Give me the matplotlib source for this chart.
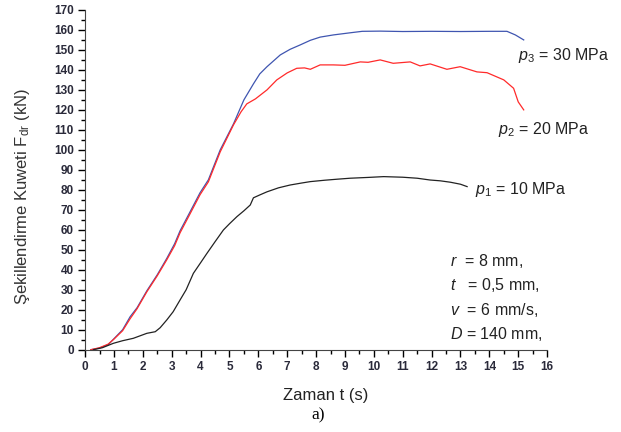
import matplotlib
matplotlib.use("Agg")
import matplotlib.pyplot as plt
from matplotlib.ticker import MultipleLocator

plt.rcParams.update({
    "font.family": ["Liberation Sans", "DejaVu Sans"],
    "mathtext.fontset": "custom",
    "mathtext.rm": "Liberation Sans",
    "mathtext.it": "Liberation Sans:italic",
})

# p3 = 30 MPa (blue)
t_p3 = [0.2, 0.5, 0.8, 1.0, 1.3, 1.56, 1.8, 2.14, 2.5, 2.83, 3.1, 3.29, 3.6, 3.98,
        4.27, 4.68, 5.14, 5.5, 5.83, 6.05, 6.3, 6.76, 7.1, 7.45, 7.8, 8.14, 8.6,
        9.2, 9.6, 10.22, 11.0, 12.0, 13.0, 14.0, 14.61, 14.9, 15.19]
f_p3 = [0, 0.8, 2.5, 5.5, 10, 16.5, 21, 29.5, 37.5, 45.7, 53, 59.5, 68, 78.5,
        85, 100, 113, 125, 133, 138, 141.6, 147.5, 150.3, 152.5, 154.8, 156.4, 157.5,
        158.6, 159.3, 159.4, 159.2, 159.3, 159.2, 159.3, 159.3, 157.5, 155]

# p2 = 20 MPa (red)
t_p2 = [0.2, 0.5, 0.8, 1.0, 1.3, 1.56, 1.8, 2.14, 2.5, 2.83, 3.1, 3.29, 3.6, 3.98,
        4.27, 4.68, 5.14, 5.4, 5.6, 5.9, 6.3, 6.64, 7.0, 7.33, 7.6, 7.8, 8.14, 8.6,
        9.0, 9.53, 9.8, 10.22, 10.67, 11.26, 11.6, 11.95, 12.53, 12.99, 13.57, 13.92,
        14.5, 14.84, 15.0, 15.19]
f_p2 = [0, 1, 2.8, 5.3, 9.5, 15.5, 20.5, 29, 37, 45, 52, 58.5, 67, 77.5,
        84, 99, 112.5, 119, 123, 125.5, 130, 135, 138.5, 140.8, 141, 140.3, 142.5, 142.5,
        142.3, 144, 143.8, 145, 143.3, 144, 142, 143, 140.3, 141.6, 139, 138.6,
        135, 130.8, 124, 120]

# p1 = 10 MPa (black)
t_p1 = [0.29, 0.6, 0.98, 1.3, 1.67, 2.14, 2.43, 2.6, 2.83, 3.05, 3.29, 3.5, 3.75, 4.0,
        4.22, 4.5, 4.79, 5.0, 5.26, 5.5, 5.72, 5.83, 6.06, 6.3, 6.7, 7.1, 7.5, 7.8,
        8.3, 8.72, 9.18, 9.8, 10.34, 11.0, 11.5, 11.95, 12.3, 12.65, 13.0, 13.23]
f_p1 = [0, 1, 3.2, 4.5, 5.7, 8.2, 9, 11, 14.9, 19, 24.9, 30, 38.2, 43.5,
        48.2, 54, 59.9, 63, 66.6, 69.5, 72.4, 76, 77.5, 79, 81, 82.4, 83.4, 84.1,
        84.8, 85.3, 85.8, 86.2, 86.6, 86.3, 85.8, 84.9, 84.5, 83.8, 82.8, 81.6]

params = [r"$r$  = 8 mm,", r"$t$   = 0,5 mm,", r"$v$  = 6 mm/s,", r"$D$ = 140 mm,"]

fig = plt.figure(figsize=(6.21, 4.32), dpi=100)
ax = fig.add_axes([0.137, 0.1905, 0.744, 0.7865])

ax.plot(t_p3, f_p3, color="#3f55b0", linewidth=0.9)
ax.plot(t_p2, f_p2, color="#ff2a2a", linewidth=0.9)
ax.plot(t_p1, f_p1, color="#222222", linewidth=0.9)

ax.set_xlim(0, 16)
ax.set_ylim(0, 170)
ax.xaxis.set_major_locator(MultipleLocator(1))
ax.xaxis.set_minor_locator(MultipleLocator(0.5))
ax.yaxis.set_major_locator(MultipleLocator(10))
ax.yaxis.set_minor_locator(MultipleLocator(5))
ax.tick_params(which="major", direction="out", length=5, width=1, labelsize=8.5,
               labelcolor="#2a2a3a", pad=3)
ax.tick_params(which="minor", direction="out", length=3, width=1)
for lab in ax.get_xticklabels() + ax.get_yticklabels():
    lab.set_fontweight("bold")
ax.spines["top"].set_visible(False)
ax.spines["right"].set_visible(False)
ax.spines["left"].set_color("#444444")
ax.spines["bottom"].set_color("#444444")

ax.set_xlabel("Zaman t (s)", fontsize=12, color="#222222")
ax.xaxis.set_label_coords(0.52, -0.112)
ax.set_ylabel(r"Şekillendirme Kuweti F$_{\mathrm{dr}}$ (kN)", fontsize=12,
              color="#333333")
ax.yaxis.set_label_coords(-0.115, 0.45)

lab_kw = dict(fontsize=11.5, color="#222222", ha="left", va="center")
ax.text(15.0, 147, r"$p_{\mathit{3}}$ = 30 MPa", **lab_kw)
ax.text(14.3, 110, r"$p_{\mathit{2}}$ = 20 MPa", **lab_kw)
ax.text(13.5, 80, r"$p_{\mathit{1}}$ = 10 MPa", **lab_kw)

for i, s in enumerate(params):
    ax.text(12.65, 44.5 - i * 12.2, s, **lab_kw)

fig.text(0.513, 0.038, "a)", fontsize=12.5, family=["Liberation Serif"], ha="center", va="center")

fig.savefig("out.png", dpi=100, facecolor="white")
